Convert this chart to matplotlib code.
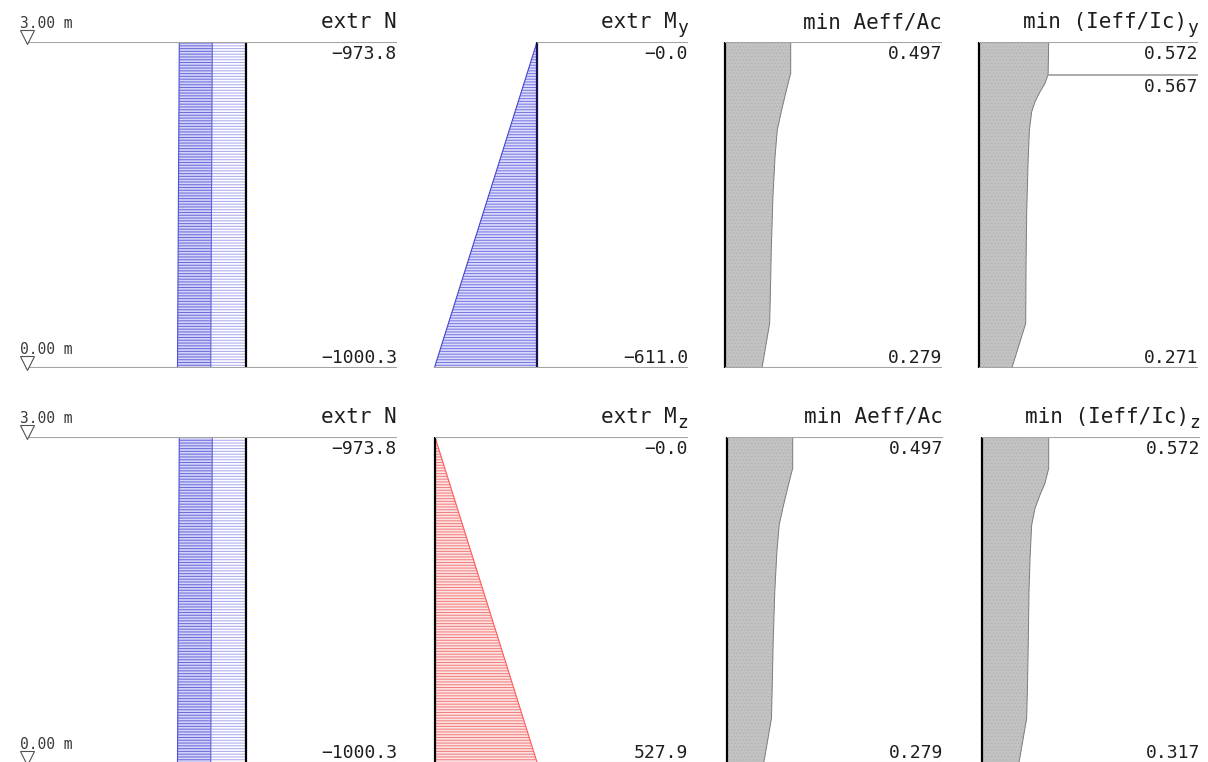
import numpy as np
import matplotlib.pyplot as plt
from matplotlib.transforms import offset_copy

plt.rcParams['font.family'] = ['DejaVu Sans Mono']
plt.rcParams['hatch.linewidth'] = 0.75

# ---------- data (heights in m, 0 = bottom, 3 = top) ----------
levels = [3.0, 0.0]
level_labels = ['3.00 m', '0.00 m']

h_N = [0.0, 3.0]
N_min = [-1000.3, -973.8]
N_max = [-515.0, -492.0]

h_M = [0.0, 3.0]
My = [-611.0, -0.0]
Mz = [527.9, -0.0]

h_aeff = [0.0, 0.411, 0.656, 1.117, 1.577, 1.945, 2.190, 2.374, 2.589, 2.712, 3.0]
aeff = [0.279, 0.337, 0.342, 0.350, 0.362, 0.378, 0.395, 0.428, 0.471, 0.497, 0.497]

h_ieff_y = [0.0, 0.409, 0.962, 1.422, 1.883, 2.190, 2.358, 2.450, 2.542, 2.620, 2.700, 3.0]
ieff_y = [0.271, 0.384, 0.387, 0.392, 0.403, 0.414, 0.433, 0.460, 0.501, 0.542, 0.567, 0.572]
ieff_y_mark_h = 2.70
ieff_y_mark = 0.567

h_ieff_z = [0.0, 0.411, 0.656, 1.116, 1.577, 1.884, 2.190, 2.344, 2.466, 2.574, 2.712, 3.0]
ieff_z = [0.317, 0.383, 0.389, 0.397, 0.403, 0.412, 0.426, 0.455, 0.497, 0.540, 0.572, 0.572]

# ---------- figure ----------
W, H = 1208, 762
fig = plt.figure(figsize=(W / 100, H / 100), dpi=100)

TXT = '#1e1e1e'
BASE = '#a4a4a4'


def make_ax(left, right, zero, scale, top, bottom):
    # pixel geometry -> axes; scale is pixels per unit of the quantity
    ax = fig.add_axes([left / W, (H - bottom) / H, (right - left) / W, (bottom - top) / H])
    ax.set_xlim((left - zero) / scale, (right - zero) / scale)
    ax.set_ylim(0, 3)
    ax.axis('off')
    return ax


def labels(ax, title, top_txt, bot_txt, sub=None):
    if sub is None:
        ax.annotate(title, xy=(1, 1), xycoords='axes fraction', xytext=(0, 14),
                    textcoords='offset pixels', ha='right', va='baseline',
                    fontsize=15, color=TXT)
    else:
        # subscript drawn as its own, lowered text
        ax.annotate(sub, xy=(1, 1), xycoords='axes fraction', xytext=(0, 9),
                    textcoords='offset pixels', ha='right', va='baseline',
                    fontsize=13, color=TXT)
        ax.annotate(title, xy=(1, 1), xycoords='axes fraction', xytext=(-11, 14),
                    textcoords='offset pixels', ha='right', va='baseline',
                    fontsize=15, color=TXT)
    ax.annotate(top_txt, xy=(1, 1), xycoords='axes fraction', xytext=(0, -3),
                textcoords='offset pixels', ha='right', va='top',
                fontsize=13, color=TXT)
    ax.annotate(bot_txt, xy=(1, 0), xycoords='axes fraction', xytext=(0, 5),
                textcoords='offset pixels', ha='right', va='baseline',
                fontsize=13, color=TXT)


def baselines(ax, h, v, from_left=False):
    xl, xmax = ax.get_xlim()
    for hh in (0.0, 3.0):
        vv = np.interp(hh, h, v)
        x0 = xl if from_left else min(0.0, vv)
        ax.plot([x0, xmax], [hh, hh], color=BASE, lw=1.5, solid_capstyle='butt')


def fmt1(v):
    return f'{v:.1f}'.replace('-', '\u2212')


def fmt3(v):
    return f'{v:.3f}'


def n_panel(top, bottom):
    ax = make_ax(27, 397, 246, 0.0685, top, bottom)
    ax.fill_betweenx(h_N, 0, N_max, facecolor='white', edgecolor='#acacf0',
                     hatch='------', lw=0)
    ax.fill_betweenx(h_N, N_max, N_min, facecolor='#d4d4f8', edgecolor='#6c6cdc',
                     hatch='------', lw=0)
    ax.plot(N_min, h_N, color='#5050d4', lw=0.8)
    ax.plot(N_max, h_N, color='#6060d8', lw=0.8)
    ax.plot([0, 0], [0, 3], color='black', lw=1.6)
    baselines(ax, h_N, N_min, from_left=True)
    x0 = ax.get_xlim()[0]
    for lev, lab in zip(levels, level_labels):
        tr_m = offset_copy(ax.transData, fig=fig, x=0, y=5, units='dots')
        ax.plot([x0], [lev], marker='v', ms=10, mfc='white', mec='#505050',
                mew=0.8, transform=tr_m, clip_on=False)
        tr_t = offset_copy(ax.transData, fig=fig, x=-7, y=14, units='dots')
        ax.text(x0, lev, lab, transform=tr_t, ha='left', va='baseline',
                fontsize=10.5, color='#3a3a3a')
    labels(ax, 'extr N', fmt1(N_min[-1]), fmt1(N_min[0]))


def m_panel(vals, zero, scale, top, bottom, face, hcol, ecol, zcol, sub):
    ax = make_ax(zero - 110, 688, zero, scale, top, bottom)
    ax.fill_betweenx(h_M, 0, vals, facecolor=face, edgecolor=hcol,
                     hatch='------', lw=0)
    ax.plot(vals, h_M, color=ecol, lw=0.8)
    ax.plot([0, 0], [0, 3], color=zcol, lw=1.6)
    baselines(ax, h_M, vals)
    labels(ax, 'extr M', fmt1(vals[-1]), fmt1(vals[0]), sub=sub)


def ratio_panel(h, v, zero, scale, right, top, bottom, title, sub=None, mark=None):
    ax = make_ax(zero - 110, right, zero, scale, top, bottom)
    ax.fill_betweenx(h, 0, v, facecolor='#c3c3c3', edgecolor='#b4b4b4',
                     hatch='.....', lw=0)
    ax.plot(v, h, color='#7c7c7c', lw=0.7)
    ax.plot([0, 0], [0, 3], color='black', lw=1.6)
    baselines(ax, h, v)
    if mark is not None:
        mh, mv = mark
        ax.plot([mv, ax.get_xlim()[1]], [mh, mh], color=BASE, lw=1.3)
        ax.annotate(fmt3(mv), xy=(ax.get_xlim()[1], mh), xycoords='data',
                    xytext=(0, -3), textcoords='offset pixels', ha='right',
                    va='top', fontsize=13, color=TXT)
    labels(ax, title, fmt3(v[-1]), fmt3(v[0]), sub=sub)


# top row
n_panel(42, 368)
m_panel(My, 537, 0.168, 42, 368, '#dcdcfa', '#7878e4', '#4444d2', '#141450', 'y')
ratio_panel(h_aeff, aeff, 725.3, 131.6, 942, 42, 368, 'min Aeff/Ac')
ratio_panel(h_ieff_y, ieff_y, 978.7, 122.4, 1198, 42, 368,
            'min (Ieff/Ic)', sub='y', mark=(ieff_y_mark_h, ieff_y_mark))

# bottom row
n_panel(437, 763)
m_panel(Mz, 435, 0.1937, 437, 763, '#ffe2e2', '#f28080', '#ff5a5a', 'black', 'z')
ratio_panel(h_aeff, aeff, 726.7, 132.8, 943, 437, 763, 'min Aeff/Ac')
ratio_panel(h_ieff_z, ieff_z, 982, 116.6, 1200, 437, 763, 'min (Ieff/Ic)', sub='z')

fig.savefig('out.png', dpi=100)
